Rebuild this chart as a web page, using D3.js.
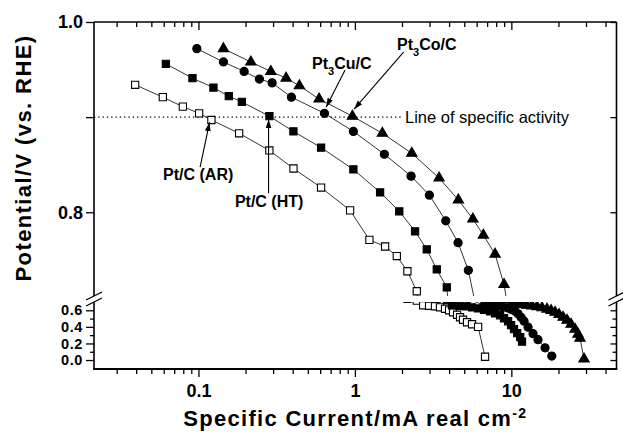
<!DOCTYPE html>
<html>
<head>
<meta charset="utf-8">
<script src="https://cdn.jsdelivr.net/npm/d3@7"></script>
<style>
  body { margin: 0; background: #fff; }
  svg { display: block; font-family: "Liberation Sans", Arial, Helvetica, sans-serif; }
  .tick text { font-family: "Liberation Sans", Arial, Helvetica, sans-serif; font-weight: bold; font-size: 18px; fill: #000; }
  .lower .tick text { font-size: 14.5px; letter-spacing: 0.6px; }
  .tick line { stroke: #000; stroke-width: 1.3; }
</style>
</head>
<body>
<svg id="chart" width="623" height="434"></svg>
<script>
// Pt/C (AR) - open squares (current mA/cm2, potential V)
const arX = [0.0394, 0.0592, 0.0795, 0.101, 0.121, 0.182, 0.284, 0.405, 0.608, 0.932, 1.238, 1.56, 1.853, 2.166, 2.486,
  2.73, 2.98, 3.25, 3.50, 3.77, 4.00, 4.24, 4.50, 4.70, 4.91, 5.21, 5.61, 6.13, 6.79];
const arV = [0.934, 0.921, 0.911, 0.904, 0.897, 0.883, 0.865, 0.846, 0.826, 0.802, 0.771, 0.764, 0.754, 0.738, 0.717,
  0.660, 0.654, 0.648, 0.636, 0.618, 0.600, 0.576, 0.546, 0.516, 0.486, 0.456, 0.432, 0.400, 0.040];

// Pt/C (HT) - filled squares
const htX = [0.0619, 0.0916, 0.1247, 0.1564, 0.1894, 0.2842, 0.4046, 0.608, 0.978, 1.449, 1.922, 2.425, 2.88, 3.337, 3.867,
  4.18, 4.63, 5.13, 5.61, 6.13, 6.69, 7.31, 7.87, 8.47, 8.98, 9.53, 9.96, 10.4, 10.9, 11.4, 11.7];
const htV = [0.956, 0.941, 0.931, 0.922, 0.916, 0.901, 0.885, 0.868, 0.845, 0.821, 0.801, 0.780, 0.761, 0.740, 0.721,
  0.660, 0.654, 0.648, 0.636, 0.624, 0.606, 0.588, 0.564, 0.540, 0.504, 0.468, 0.420, 0.372, 0.324, 0.276, 0.222];

// Pt3Cu/C - filled circles
const cuX = [0.0977, 0.1445, 0.1959, 0.2453, 0.2958, 0.3929, 0.6386, 0.978, 1.543, 2.287, 2.992, 3.81, 4.565, 5.31,
  6.69, 7.31, 7.99, 8.72, 9.39, 9.96, 10.56, 11.04, 11.53, 12.06, 12.79, 13.76, 14.81, 16.42, 18.13];
const cuV = [0.972, 0.958, 0.948, 0.940, 0.936, 0.921, 0.904, 0.885, 0.861, 0.838, 0.818, 0.791, 0.768, 0.739,
  0.660, 0.657, 0.651, 0.642, 0.630, 0.612, 0.588, 0.558, 0.516, 0.468, 0.396, 0.318, 0.246, 0.148, 0.048];

// Pt3Co/C - filled triangles
const coX = [0.1445, 0.2162, 0.2901, 0.3634, 0.4419, 0.5904, 0.9639, 1.498, 2.31, 3.451, 4.585, 5.675, 6.623, 7.867, 8.98,
  10.10, 10.87, 11.70, 12.60, 13.56, 14.60, 15.71, 16.91, 17.94, 19.02, 20.17, 21.40, 22.70, 24.07, 25.53, 26.68, 27.48, 29.14];
const coV = [0.972, 0.958, 0.948, 0.941, 0.933, 0.919, 0.901, 0.883, 0.862, 0.836, 0.813, 0.793, 0.776, 0.756, 0.724,
  0.672, 0.670, 0.666, 0.660, 0.653, 0.643, 0.630, 0.614, 0.597, 0.576, 0.549, 0.516, 0.480, 0.432, 0.372, 0.312, 0.264, 0.012];

// axis ticks
const xMajor = [0.1, 1, 10];
const yUpTicks = [0.8, 0.9, 1.0];
const yUpLabels = ["0.8", "", "1.0"];
const yLoTicks = [0, 0.2, 0.4, 0.6];
const yLoMinor = [0.1, 0.3, 0.5];
const specificActivity = 0.9;

const plot = { left: 94, right: 616.5, top: 22, bottom: 369, breakUp: 296, breakLo: 302 };

const svg = d3.select("#chart");

const x = d3.scaleLog().domain([0.0215, 47]).range([plot.left, plot.right]);
const yUp = d3.scaleLinear().domain([0.712, 1.0]).range([plot.breakUp, plot.top]);
const yLo = d3.scaleLinear().domain([-0.108, 0.7]).range([plot.bottom, plot.breakLo]);

const xMinor = x.ticks().filter(t => !xMajor.some(m => Math.abs(m - t) < 1e-9));

const defs = svg.append("defs");
defs.append("clipPath").attr("id", "clipUp")
  .append("rect")
  .attr("x", plot.left).attr("y", plot.top)
  .attr("width", plot.right - plot.left).attr("height", plot.breakUp - plot.top);
defs.append("clipPath").attr("id", "clipLo")
  .append("rect")
  .attr("x", plot.left).attr("y", plot.breakLo)
  .attr("width", plot.right - plot.left).attr("height", plot.bottom - plot.breakLo);
defs.append("marker")
  .attr("id", "arrow")
  .attr("viewBox", "0 0 10 10")
  .attr("refX", 10).attr("refY", 5)
  .attr("markerWidth", 9).attr("markerHeight", 9)
  .attr("markerUnits", "userSpaceOnUse")
  .attr("orient", "auto")
  .append("path")
  .attr("d", "M0,1.8L10,5L0,8.2Z")
  .attr("fill", "#000");

// dotted line of specific activity
svg.append("line")
  .attr("x1", x(x.domain()[0])).attr("x2", x(2.03))
  .attr("y1", yUp(specificActivity)).attr("y2", yUp(specificActivity))
  .attr("stroke", "#000").attr("stroke-width", 1.3)
  .attr("stroke-dasharray", "1.3,3");

const series = [
  { xs: arX, vs: arV, symbol: d3.symbolSquare, size: 52, fill: "#fff" },
  { xs: htX, vs: htV, symbol: d3.symbolSquare, size: 52, fill: "#000" },
  { xs: cuX, vs: cuV, symbol: d3.symbolCircle, size: 52, fill: "#000" },
  { xs: coX, vs: coV, symbol: d3.symbolTriangle, size: 46, fill: "#000" }
];

const panels = [
  { y: yUp, clip: "clipUp" },
  { y: yLo, clip: "clipLo" }
];

panels.forEach(p => {
  const g = svg.append("g").attr("clip-path", `url(#${p.clip})`);
  const line = d3.line().x(d => x(d[0])).y(d => p.y(d[1]));
  series.forEach(s => {
    const pts = d3.zip(s.xs, s.vs);
    g.append("path")
      .datum(pts)
      .attr("d", line)
      .attr("fill", "none")
      .attr("stroke", "#000")
      .attr("stroke-width", 0.8);
    g.selectAll(null)
      .data(pts)
      .join("path")
      .attr("transform", d => `translate(${x(d[0])},${p.y(d[1])})`)
      .attr("d", d3.symbol().type(s.symbol).size(s.size))
      .attr("fill", s.fill)
      .attr("stroke", "#000")
      .attr("stroke-width", 1.1);
  });
});

// axes
const clean = g => { g.select(".domain").remove(); g.attr("font-size", null).attr("font-family", null); };

svg.append("g").attr("transform", `translate(0,${plot.bottom})`)
  .call(d3.axisBottom(x).tickValues(xMajor).tickSize(8).tickPadding(7).tickFormat(d3.format("")))
  .call(clean);
svg.append("g").attr("transform", `translate(0,${plot.bottom})`)
  .call(d3.axisBottom(x).tickValues(xMinor).tickSize(5).tickFormat(""))
  .call(clean);
svg.append("g").attr("transform", `translate(0,${plot.top})`)
  .call(d3.axisTop(x).tickValues(xMajor).tickSize(-8).tickFormat(""))
  .call(clean);
svg.append("g").attr("transform", `translate(0,${plot.top})`)
  .call(d3.axisTop(x).tickValues(xMinor).tickSize(-5).tickFormat(""))
  .call(clean);

svg.append("g").attr("transform", `translate(${plot.left},0)`)
  .call(d3.axisLeft(yUp).tickValues(yUpTicks).tickSize(8).tickPadding(3).tickFormat((d, i) => yUpLabels[i]))
  .call(clean);
svg.append("g").attr("class", "lower").attr("transform", `translate(${plot.left},0)`)
  .call(d3.axisLeft(yLo).tickValues(yLoTicks).tickSize(8).tickPadding(3).tickFormat(d3.format(".1f")))
  .call(clean);
svg.append("g").attr("transform", `translate(${plot.left},0)`)
  .call(d3.axisLeft(yLo).tickValues(yLoMinor).tickSize(4).tickFormat(""))
  .call(clean);

svg.append("g").attr("transform", `translate(${plot.right},0)`)
  .call(d3.axisRight(yUp).tickValues(yUpTicks).tickSize(-6).tickFormat(""))
  .call(clean);
svg.append("g").attr("transform", `translate(${plot.right},0)`)
  .call(d3.axisRight(yLo).tickValues(yLoTicks).tickSize(-6).tickFormat(""))
  .call(clean);
svg.append("g").attr("transform", `translate(${plot.right},0)`)
  .call(d3.axisRight(yLo).tickValues(yLoMinor).tickSize(-4).tickFormat(""))
  .call(clean);

// frame with broken y axis
const frame = svg.append("g").attr("stroke", "#000").attr("stroke-width", 1.6).attr("fill", "none");
frame.append("line").attr("x1", plot.left).attr("x2", plot.right).attr("y1", plot.top).attr("y2", plot.top);
frame.append("line").attr("x1", plot.left - 0.8).attr("x2", plot.right + 0.8).attr("y1", plot.bottom).attr("y2", plot.bottom).attr("stroke-width", 2);
[plot.left, plot.right].forEach(xx => {
  frame.append("line").attr("x1", xx).attr("x2", xx).attr("y1", plot.top).attr("y2", plot.breakUp);
  frame.append("line").attr("x1", xx).attr("x2", xx).attr("y1", plot.breakLo).attr("y2", plot.bottom);
  [plot.breakUp, plot.breakLo].forEach(yy => {
    frame.append("line")
      .attr("x1", xx - 8).attr("y1", yy + 4)
      .attr("x2", xx + 8).attr("y2", yy - 4)
      .attr("stroke-width", 1.3);
  });
});

// axis titles
const xt = svg.append("text")
  .attr("x", (plot.left + plot.right) / 2).attr("y", 426)
  .attr("text-anchor", "middle")
  .attr("font-weight", "bold").attr("font-size", 22)
  .attr("letter-spacing", 1.3);
xt.append("tspan").text("Specific Current/mA real cm");
xt.append("tspan").attr("dy", -8).attr("font-size", 14).text("-2");

svg.append("text")
  .attr("transform", "translate(31,158) rotate(-90)")
  .attr("text-anchor", "middle")
  .attr("font-weight", "bold").attr("font-size", 22)
  .attr("letter-spacing", 1.4)
  .text("Potential/V (vs. RHE)");

svg.append("text")
  .attr("x", x(2.09)).attr("y", yUp(specificActivity)).attr("dy", "0.33em")
  .attr("font-size", 16.5)
  .text("Line of specific activity");

// annotations: label position and arrow (value, potential)
const notes = [
  { text: ["Pt/C (AR)"], at: [0.0996, 0.8337], anchor: "middle", from: [0.1025, 0.8474], to: [0.1178, 0.8947] },
  { text: ["Pt/C (HT)"], at: [0.283, 0.8053], anchor: "middle", from: [0.2807, 0.820], to: [0.2807, 0.8979] },
  { text: ["Pt", "3", "Cu/C"], at: [0.5326, 0.9505], anchor: "start", from: [0.8656, 0.9495], to: [0.6546, 0.9105] },
  { text: ["Pt", "3", "Co/C"], at: [1.86, 0.9705], anchor: "start", from: [2.047, 0.9684], to: [0.9883, 0.9084] }
];

notes.forEach(n => {
  svg.append("line")
    .attr("x1", x(n.from[0])).attr("y1", yUp(n.from[1]))
    .attr("x2", x(n.to[0])).attr("y2", yUp(n.to[1]))
    .attr("stroke", "#000").attr("stroke-width", 1.1)
    .attr("marker-end", "url(#arrow)");
  const t = svg.append("text")
    .attr("x", x(n.at[0])).attr("y", yUp(n.at[1]))
    .attr("text-anchor", n.anchor)
    .attr("font-weight", "bold").attr("font-size", 16);
  if (n.text.length === 1) {
    t.text(n.text[0]);
  } else {
    t.append("tspan").text(n.text[0]);
    t.append("tspan").attr("dy", 6).attr("font-size", 11).text(n.text[1]);
    t.append("tspan").attr("dy", -6).text(n.text[2]);
  }
});
</script>
</body>
</html>
